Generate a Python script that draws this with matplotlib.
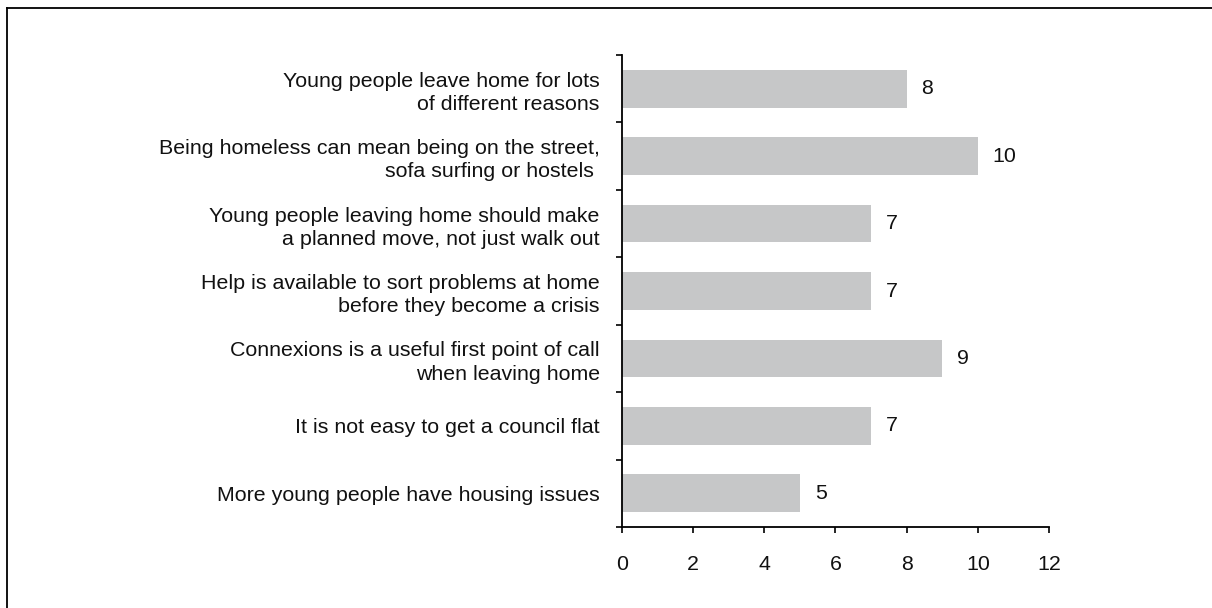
import numpy as np
import matplotlib.pyplot as plt
from matplotlib.lines import Line2D

# Datos del gráfico
labels = [
    'Young people leave home for lots\nof different reasons',
    'Being homeless can mean being on the street,\nsofa surfing or hostels ',
    'Young people leaving home should make\na planned move, not just walk out',
    'Help is available to sort problems at home\nbefore they become a crisis',
    'Connexions is a useful first point of call\nwhen leaving home',
    'It is not easy to get a council flat',
    'More young people have housing issues',
]
values = [8, 10, 7, 7, 9, 7, 5]
x_ticks = [0, 2, 4, 6, 8, 10, 12]

plt.rcParams['font.family'] = ['Liberation Sans', 'DejaVu Sans']
fs = 15.4

fig = plt.figure(figsize=(12.12, 6.08), dpi=100)
ax = fig.add_axes([0.5132, 0.1332, 0.3523, 0.7763])

pos = np.arange(len(values))
ax.barh(pos, values, height=0.56, color='#c6c7c8')
for p, v in zip(pos, values):
    ax.text(v + 0.42, p, str(v), va='center', ha='left', fontsize=fs, color='#111111')

ax.set_ylim(len(values) - 0.5, -0.5)
ax.set_xlim(0, 12)
ax.set_xticks(x_ticks)
ax.set_yticks(pos)
ax.set_yticklabels(labels, fontsize=fs, color='#111111', linespacing=1.28)
ax.set_yticks(np.arange(-0.5, len(values)), minor=True)

ax.tick_params(axis='y', which='major', length=0, pad=16)
ax.tick_params(axis='y', which='minor', length=4, width=1.2, direction='out')
ax.tick_params(axis='x', length=4, width=1.2, direction='out', pad=16, labelsize=fs, labelcolor='#111111')

for s in ['top', 'right']:
    ax.spines[s].set_visible(False)
for s in ['left', 'bottom']:
    ax.spines[s].set_linewidth(1.3)

# Borde del marco (solo arriba e izquierda)
fig.add_artist(Line2D([7 / 1212, 7 / 1212], [0, 1 - 8 / 608], transform=fig.transFigure, color='black', lw=1.3))
fig.add_artist(Line2D([7 / 1212, 1], [1 - 8 / 608, 1 - 8 / 608], transform=fig.transFigure, color='black', lw=1.3))

fig.savefig('out.png', dpi=100)
